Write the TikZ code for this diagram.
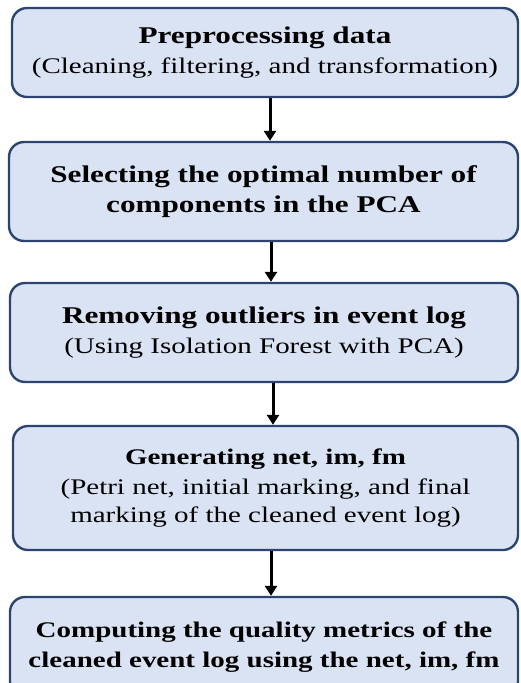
\documentclass[tikz,border=0pt]{standalone}
\usepackage{fontspec}
\setmainfont{Liberation Serif}[FakeStretch=1.3]
\usetikzlibrary{arrows.meta}
\definecolor{boxfill}{HTML}{DAE3F3}
\definecolor{boxline}{HTML}{2B4470}
\tikzset{
  box/.style={draw=boxline, fill=boxfill, line width=2.4pt, rounded corners=15pt,
    align=center, inner sep=0pt, font=\fontsize{22.3}{30}\selectfont},
  arr/.style={line width=3pt, -{Triangle[width=12pt,length=10pt]}},
}
\newcommand{\ttl}[1]{{\bfseries\fontsize{24}{30}\selectfont #1}}
\newcommand{\ttlsm}[1]{{\bfseries\fontsize{22.3}{30}\selectfont #1}}
\begin{document}
\begin{tikzpicture}[x=1pt,y=-1pt]
\useasboundingbox (0,0) rectangle (520,683);
\node[box, minimum width=506pt, minimum height=89pt] (b1) at (265,52.5)
  {\ttl{Preprocessing data}\\(Cleaning, filtering, and transformation)};
\node[box, minimum width=509pt, minimum height=99pt] (b2) at (263.5,191.5)
  {\ttl{Selecting the optimal number of}\\\ttl{components in the PCA}};
\node[box, minimum width=508pt, minimum height=99pt] (b3) at (264,332.5)
  {\ttl{Removing outliers in event log}\\(Using Isolation Forest with PCA)};
\node[box, minimum width=505pt, minimum height=124pt] (b4) at (265.5,488)
  {\ttlsm{Generating net, im, fm}\\(Petri net, initial marking, and final\\[-1.5pt]marking of the cleaned event log)};
\node[box, minimum width=508pt, minimum height=100pt] (b5) at (264,647)
  {\ttlsm{Computing the quality metrics of the}\\\ttlsm{cleaned event log using the net, im, fm}};
\draw[arr] ([xshift=5pt]b1.south) -- ([xshift=5pt]b1.south |- b2.north);
\draw[arr] ([xshift=7.5pt]b2.south) -- ([xshift=7.5pt]b2.south |- b3.north);
\draw[arr] ([xshift=9pt]b3.south) -- ([xshift=9pt]b3.south |- b4.north);
\draw[arr] ([xshift=5.5pt]b4.south) -- ([xshift=5.5pt]b4.south |- b5.north);
\end{tikzpicture}
\end{document}
